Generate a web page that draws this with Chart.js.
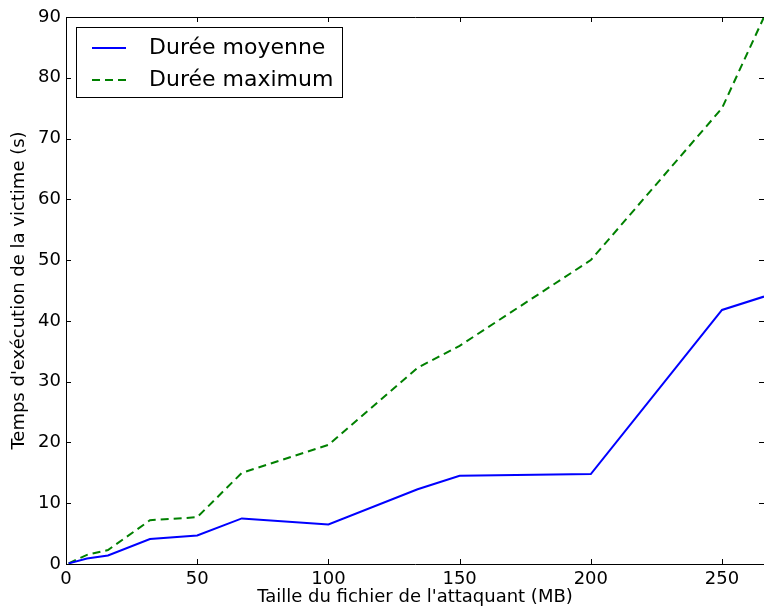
<!DOCTYPE html>
<html>
<head>
<meta charset="utf-8">
<script src="https://cdn.jsdelivr.net/npm/chart.js@4/dist/chart.umd.min.js"></script>
<style>
  html, body { margin: 0; padding: 0; background: #fff; }
  #wrap { width: 764px; height: 608px; }
</style>
</head>
<body>
<div id="wrap"><canvas id="chart" width="764" height="608"></canvas></div>
<script>
// file sizes (MB) and durations (s)
const fileSizes = [1, 8, 16, 32, 50, 67, 100, 134, 150, 200, 250, 266]
const meanDuration = [0.1, 0.9, 1.4, 4.1, 4.7, 7.5, 6.5, 12.3, 14.5, 14.8, 41.8, 44]
const maxDuration = [0.1, 1.5, 2.3, 7.2, 7.7, 15, 19.6, 32.3, 35.9, 50, 75, 90]
const seriesLabels = ['Durée moyenne', 'Durée maximum']
const xTitle = "Taille du fichier de l'attaquant (MB)"
const yTitle = "Temps d'exécution de la victime (s)"

const FONT = 'DejaVu Sans'

const toPoints = values => fileSizes.map((x, i) => ({ x, y: values[i] }))

// matplotlib look: inward ticks on all sides, top spine, legend box in the corner
const mplFrame = {
  id: 'mplFrame',
  afterDraw(chart) {
    const { ctx, chartArea: a, scales } = chart
    const len = 5
    ctx.save()
    ctx.strokeStyle = '#000'
    ctx.lineWidth = 1
    ctx.beginPath()
    ctx.moveTo(a.left, a.top + 0.5)
    ctx.lineTo(a.right + 10, a.top + 0.5)
    scales.x.ticks.forEach(t => {
      const px = Math.round(scales.x.getPixelForValue(t.value)) + 0.5
      ctx.moveTo(px, a.bottom)
      ctx.lineTo(px, a.bottom - len)
      ctx.moveTo(px, a.top)
      ctx.lineTo(px, a.top + len)
    })
    scales.y.ticks.forEach(t => {
      const py = Math.round(scales.y.getPixelForValue(t.value)) + 0.5
      ctx.moveTo(a.left, py)
      ctx.lineTo(a.left + len, py)
      ctx.moveTo(a.right, py)
      ctx.lineTo(a.right - len, py)
    })
    ctx.stroke()

    // legend
    const bx = 76.5, by = 27.5, bw = 266, bh = 70
    ctx.fillStyle = '#fff'
    ctx.fillRect(bx, by, bw, bh)
    ctx.strokeRect(bx, by, bw, bh)
    ctx.font = '22px "' + FONT + '"'
    ctx.textBaseline = 'middle'
    chart.data.datasets.forEach((ds, i) => {
      const y = 48 + i * 32
      ctx.strokeStyle = ds.borderColor
      ctx.lineWidth = 2
      ctx.setLineDash(ds.borderDash || [])
      ctx.beginPath()
      ctx.moveTo(92, y)
      ctx.lineTo(126, y)
      ctx.stroke()
      ctx.setLineDash([])
      ctx.fillStyle = '#000'
      ctx.fillText(ds.label, 149, y)
    })
    ctx.restore()
  }
}

new Chart(document.getElementById('chart'), {
  type: 'line',
  data: {
    datasets: [
      {
        label: seriesLabels[0],
        data: toPoints(meanDuration),
        borderColor: '#0000ff',
        borderWidth: 2,
        pointRadius: 0,
        tension: 0,
        fill: false
      },
      {
        label: seriesLabels[1],
        data: toPoints(maxDuration),
        borderColor: '#008000',
        borderWidth: 2,
        borderDash: [8, 5],
        pointRadius: 0,
        tension: 0,
        fill: false
      }
    ]
  },
  options: {
    responsive: false,
    animation: false,
    layout: { padding: { top: 17, right: 0, left: 0, bottom: 0 } },
    plugins: {
      legend: { display: false },
      tooltip: { enabled: false }
    },
    scales: {
      x: {
        type: 'linear',
        min: 0,
        max: 266,
        afterFit: scale => {
          scale.height = 44
          scale.paddingRight = 0
        },
        grid: { display: false, drawTicks: false },
        border: { display: true, color: '#000', width: 1 },
        ticks: {
          stepSize: 50,
          includeBounds: false,
          padding: 5,
          color: '#000',
          font: { family: FONT, size: 18 }
        },
        title: {
          display: true,
          text: xTitle,
          color: '#000',
          padding: { top: -2, bottom: 0 },
          font: { family: FONT, size: 18 }
        }
      },
      y: {
        min: 0,
        max: 90,
        afterFit: scale => { scale.width = 66 },
        grid: { display: false, drawTicks: false },
        border: { display: true, color: '#000', width: 1 },
        ticks: {
          stepSize: 10,
          padding: 5,
          color: '#000',
          font: { family: FONT, size: 18 }
        },
        title: {
          display: true,
          text: yTitle,
          color: '#000',
          padding: { top: 9, bottom: 4 },
          font: { family: FONT, size: 18 }
        }
      }
    }
  },
  plugins: [mplFrame]
})
</script>
</body>
</html>
